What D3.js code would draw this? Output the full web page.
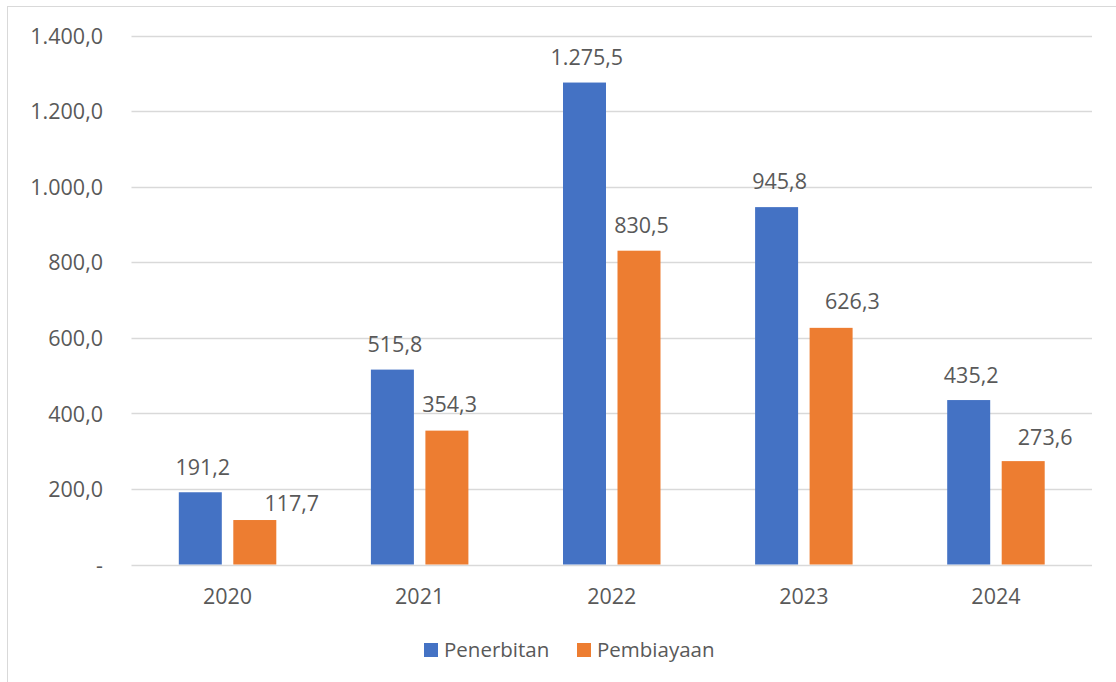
<!DOCTYPE html>
<html><head><meta charset="utf-8">
<script src="https://cdn.jsdelivr.net/npm/d3@7"></script>
<style>body{margin:0;background:#fff}svg{display:block}</style>
</head><body>
<script>
const years = ["2020","2021","2022","2023","2024"];
const seriesNames = ["Penerbitan","Pembiayaan"];
const penerbitan = [191.2, 515.8, 1275.5, 945.8, 435.2];
const pembiayaan = [117.7, 354.3, 830.5, 626.3, 273.6];
const yTicks = [0,200,400,600,800,1000,1200,1400];
const colors = ["#4472C4","#ED7D31"];
// manual label nudges (as placed in the original chart): [dx, baseline gap above bar]
const labelNudgePenerbitan = [[2.5,17.7],[2.5,17.7],[2.3,17.7],[3,18],[2.5,17.4]];
const labelNudgePembiayaan = [[37,9],[2.7,19],[2.5,17.4],[21.3,19],[22,15.7]];

(function(){
const W=1116,H=682;
const svg=d3.select("body").append("svg").attr("width",W).attr("height",H);
const font="'Open Sans', sans-serif";
const fs=21.5;
svg.append("rect").attr("x",7.5).attr("y",6.5).attr("width",W+10).attr("height",H+10)
  .attr("fill","#fff").attr("stroke","#D9D9D9");

const pl=131.5,pr=1092,pt=35.5,pb=564.5;
const x=d3.scaleBand().domain(years).range([pl,pr]).paddingInner(0).paddingOuter(0);
const y=d3.scaleLinear().domain([0,1400]).range([pb,pt]);
const fmt=v=>v===0?"-":new Intl.NumberFormat("de-DE",{minimumFractionDigits:1,maximumFractionDigits:1}).format(v);

svg.append("g").selectAll("line").data(yTicks).join("line")
  .attr("x1",pl).attr("x2",pr).attr("y1",d=>Math.round(y(d))+0.5).attr("y2",d=>Math.round(y(d))+0.5)
  .attr("stroke","#D9D9D9").attr("stroke-width",1.3);
svg.append("g").selectAll("text").data(yTicks).join("text")
  .attr("x",103).attr("y",d=>y(d)+8.2).attr("text-anchor","end")
  .attr("font-family",font).attr("font-size",fs).attr("fill","#595959").text(fmt);

const barW=43, gap=11.5;
const data=[penerbitan,pembiayaan];
const nudges=[labelNudgePenerbitan,labelNudgePembiayaan];
data.forEach((vals,s)=>{
  const off = s===0 ? -(gap/2+barW) : gap/2;
  svg.append("g").selectAll("rect").data(vals).join("rect")
    .attr("x",(d,i)=>x(years[i])+x.bandwidth()/2+off)
    .attr("y",d=>y(d)).attr("width",barW).attr("height",d=>pb-y(d))
    .attr("fill",colors[s]);
  svg.append("g").selectAll("text").data(vals).join("text")
    .attr("x",(d,i)=>x(years[i])+x.bandwidth()/2+off+barW/2+nudges[s][i][0])
    .attr("y",(d,i)=>y(d)-nudges[s][i][1]).attr("text-anchor","middle")
    .attr("font-family",font).attr("font-size",fs).attr("fill","#595959").text(fmt);
});

svg.append("g").selectAll("text").data(years).join("text")
  .attr("x",d=>x(d)+x.bandwidth()/2).attr("y",604).attr("text-anchor","middle")
  .attr("font-family",font).attr("font-size",fs).attr("fill","#595959").text(d=>d);

const legX=[424,577];
seriesNames.forEach((n,i)=>{
  svg.append("rect").attr("x",legX[i]).attr("y",643).attr("width",14).attr("height",14).attr("fill",colors[i]);
  svg.append("text").attr("x",legX[i]+20).attr("y",656.7).attr("font-family",font).attr("font-size",20.5)
    .attr("fill","#595959").text(n);
});
})();
</script>
</body></html>
